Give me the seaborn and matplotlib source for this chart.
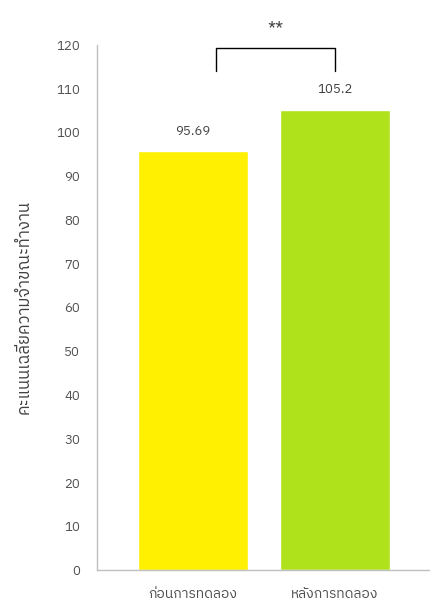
import matplotlib
matplotlib.use("Agg")
import matplotlib.pyplot as plt
from matplotlib import font_manager
import seaborn as sns
import pandas as pd

# Data
categories = ["ก่อนการทดลอง", "หลังการทดลอง"]
scores = [95.69, 105.2]
value_labels = ["95.69", "105.2"]
bar_colors = ["#FFEF00", "#B0E21C"]
y_ticks = [0, 10, 20, 30, 40, 50, 60, 70, 80, 90, 100, 110, 120]
y_title = "คะแนนเฉลี่ยความจำขณะทำงาน"
significance = "**"

sns.set_theme(style="white")

# Pick a family that can render Thai script if one is installed
thai_families = []
for f in font_manager.fontManager.ttflist:
    if "thai" in f.name.lower() and f.name not in thai_families:
        thai_families.append(f.name)
families = thai_families + ["Noto Sans", "DejaVu Sans"]
plt.rcParams["font.family"] = families

df = pd.DataFrame({"group": categories, "score": scores})

fig = plt.figure(figsize=(4.31, 6.13), dpi=100)
ax = fig.add_axes([0.225, 0.070, 0.775, 0.857])

sns.barplot(data=df, x="group", y="score", hue="group", palette=bar_colors,
            width=0.78, legend=False, ax=ax, saturation=1)

ax.set_xlim(-0.676, 1.676)
ax.set_ylim(0, 120)
ax.set_yticks(y_ticks)
ax.tick_params(axis="both", length=0, colors="#505050")
ax.tick_params(axis="y", pad=12, labelsize=9.5)
ax.tick_params(axis="x", pad=12, labelsize=10)
ax.set_xlabel("")
ax.set_ylabel(y_title, fontsize=12, color="#404040", labelpad=18)

for side in ("top", "right"):
    ax.spines[side].set_visible(False)
for side in ("left", "bottom"):
    ax.spines[side].set_color("#BFBFBF")
    ax.spines[side].set_linewidth(1.0)

# Value labels above bars
for i, (v, t) in enumerate(zip(scores, value_labels)):
    ax.text(i, v + 4.6, t, ha="center", va="center", fontsize=9.5, color="#404040")

# Significance bracket
ax.plot([0.16, 0.16, 1.0, 1.0], [114.0, 119.3, 119.3, 114.0],
        color="black", lw=1.0, clip_on=False)
ax.text(0.58, 123.5, significance, ha="center", va="center", fontsize=13,
        color="#404040", clip_on=False)

fig.savefig("out.png", dpi=100, facecolor="white")
